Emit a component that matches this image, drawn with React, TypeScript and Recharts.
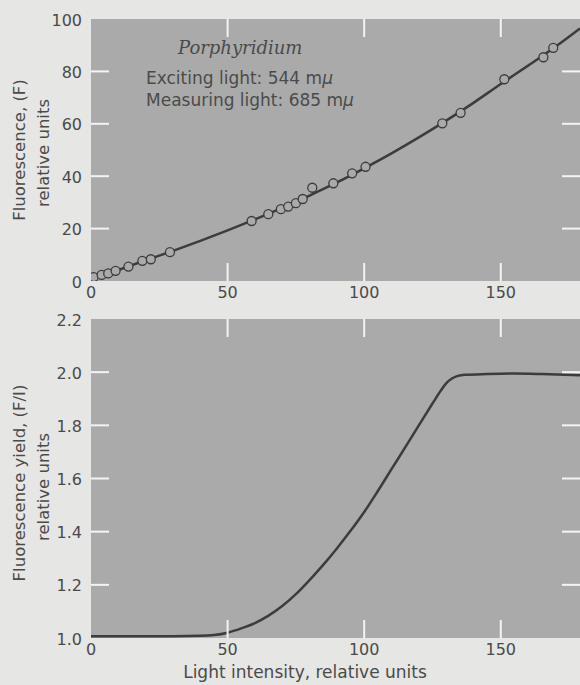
import React from 'react';
import { ComposedChart, LineChart, Line, Scatter, XAxis, YAxis, CartesianGrid } from 'recharts';

// ---------- data ----------
const xTicks = [0, 50, 100, 150];
const fluorTicks = [0, 20, 40, 60, 80, 100];
const yieldTicks = [1.0, 1.2, 1.4, 1.6, 1.8, 2.0, 2.2];

const measuredIntensity = [1, 3.9, 6.3, 9.0, 13.7, 18.8, 21.9, 28.9, 58.8, 64.9, 69.5, 72.2, 75.0, 77.5, 81.0, 88.7, 95.6, 100.5, 128.6, 135.3, 151.3, 165.6, 169.2];
const measuredFluor = [1.5, 2.3, 2.9, 3.9, 5.5, 7.7, 8.3, 11.0, 22.9, 25.5, 27.4, 28.4, 29.7, 31.3, 35.6, 37.3, 41.1, 43.6, 60.2, 64.2, 77.0, 85.4, 89.0];

const curveIntensity = [0, 10, 20, 30, 40, 50, 60, 70, 80, 90, 100, 110, 120, 130, 140, 150, 160, 170, 179];
const curveFluor = [0.5, 4.2, 7.9, 11.5, 15.3, 19.3, 23.5, 27.9, 32.6, 37.6, 43.0, 48.7, 54.8, 61.2, 68.0, 75.2, 82.2, 89.4, 96.4];

const yieldIntensity = [0, 10, 20, 30, 40, 45, 50, 55, 60, 65, 70, 75, 80, 85, 90, 95, 100, 105, 110, 115, 120, 125, 128, 130, 132, 134, 137, 145, 155, 165, 179];
const yieldValues = [1.007, 1.007, 1.007, 1.007, 1.008, 1.011, 1.02, 1.036, 1.056, 1.084, 1.12, 1.165, 1.218, 1.275, 1.337, 1.403, 1.474, 1.553, 1.635, 1.717, 1.80, 1.882, 1.93, 1.958, 1.975, 1.985, 1.99, 1.993, 1.995, 1.993, 1.988];

const X_DOMAIN: [number, number] = [0, 179];
const FLUOR_DOMAIN: [number, number] = [0, 100];
const YIELD_DOMAIN: [number, number] = [1.0, 2.2];

const points = measuredIntensity.map((x, i) => ({ x, y: measuredFluor[i] }));
const curve = curveIntensity.map((x, i) => ({ x, y: curveFluor[i] }));
const yieldCurve = yieldIntensity.map((x, i) => ({ x, y: yieldValues[i] }));

// ---------- style / layout ----------
const PAGE_BG = '#e6e6e4';
const PLOT_BG = '#aaaaaa';
const INK = '#3c3c3c';
const TEXT = '#4a4a4a';
const TICK_WHITE = '#f4f4f4';
const FONT = '"DejaVu Sans", sans-serif';
const W = 580;
const PLOT_L = 91;
const PLOT_R = 580;
const TICK_LEN = 18;
const PLOT_TOP_LOCAL = 19;

const makeYTick = (ends: [number, number], fmt: (v: number) => string) => (props: any) => {
  const { x, y, payload } = props;
  const v = payload.value;
  const inner = Math.abs(v - ends[0]) > 1e-9 && Math.abs(v - ends[1]) > 1e-9;
  return (
    <g>
      {inner && <line x1={PLOT_L} x2={PLOT_L + TICK_LEN} y1={y} y2={y} stroke={TICK_WHITE} strokeWidth={2} />}
      {inner && <line x1={PLOT_R - TICK_LEN} x2={PLOT_R} y1={y} y2={y} stroke={TICK_WHITE} strokeWidth={2} />}
      <text x={x} y={y} dy={6.5} textAnchor="end" fill={TEXT} fontSize={16} fontFamily={FONT}>{fmt(v)}</text>
    </g>
  );
};

const X_MARGIN = 6;
const makeXTick = () => (props: any) => {
  const { x, y, payload } = props;
  const v = payload.value;
  const bottom = y - X_MARGIN;
  const inner = v !== X_DOMAIN[0];
  return (
    <g>
      {inner && <line x1={x} x2={x} y1={bottom} y2={bottom - TICK_LEN} stroke={TICK_WHITE} strokeWidth={2} />}
      {inner && <line x1={x} x2={x} y1={PLOT_TOP_LOCAL} y2={PLOT_TOP_LOCAL + TICK_LEN} stroke={TICK_WHITE} strokeWidth={2} />}
      <text x={x} y={y} dy="0.71em" textAnchor="middle" fill={TEXT} fontSize={16} fontFamily={FONT}>{String(v)}</text>
    </g>
  );
};

const CircleShape = (props: any) => (
  <circle cx={props.cx} cy={props.cy} r={4.5} fill={PLOT_BG} stroke={INK} strokeWidth={1.3} />
);

export default function App() {
  return (
    <div style={{ position: 'fixed', left: 0, top: 0, width: W, height: 685, background: PAGE_BG, overflow: 'hidden' }}>
      <div style={{ position: 'absolute', left: 0, top: 0 }}>
        <ComposedChart width={W} height={310} margin={{ top: PLOT_TOP_LOCAL, right: 0, bottom: 0, left: 0 }}>
          <CartesianGrid horizontal={false} vertical={false} fill={PLOT_BG} stroke="none" />
          <XAxis dataKey="x" type="number" domain={X_DOMAIN} ticks={xTicks} interval={0} height={29}
            axisLine={false} tickLine={false} tickSize={0} tickMargin={X_MARGIN} tick={makeXTick()} allowDataOverflow />
          <YAxis dataKey="y" type="number" domain={FLUOR_DOMAIN} ticks={fluorTicks} interval={0} width={PLOT_L}
            axisLine={false} tickLine={false} tickSize={0} tickMargin={9} tick={makeYTick(FLUOR_DOMAIN, (v) => String(v))} allowDataOverflow />
          <Line data={curve} dataKey="y" type="monotone" stroke={INK} strokeWidth={2.5} dot={false} isAnimationActive={false} />
          <Scatter data={points} dataKey="y" shape={CircleShape} isAnimationActive={false} />
        </ComposedChart>
      </div>
      <div style={{ position: 'absolute', left: 0, top: 300 }}>
        <LineChart width={W} height={385} margin={{ top: PLOT_TOP_LOCAL, right: 0, bottom: 0, left: 0 }}>
          <CartesianGrid horizontal={false} vertical={false} fill={PLOT_BG} stroke="none" />
          <XAxis dataKey="x" type="number" domain={X_DOMAIN} ticks={xTicks} interval={0} height={47}
            axisLine={false} tickLine={false} tickSize={0} tickMargin={X_MARGIN} tick={makeXTick()} allowDataOverflow />
          <YAxis dataKey="y" type="number" domain={YIELD_DOMAIN} ticks={yieldTicks} interval={0} width={PLOT_L}
            axisLine={false} tickLine={false} tickSize={0} tickMargin={9} tick={makeYTick(YIELD_DOMAIN, (v) => v.toFixed(1))} allowDataOverflow />
          <Line data={yieldCurve} dataKey="y" type="monotone" stroke={INK} strokeWidth={2.5} dot={false} isAnimationActive={false} />
        </LineChart>
      </div>
      <svg width={W} height={685} style={{ position: 'absolute', left: 0, top: 0, pointerEvents: 'none' }}>
        <g fill={TEXT} fontFamily={FONT} fontSize={16.5}>
          <text transform="translate(19,150) rotate(-90)" textAnchor="middle" dy="0.35em">Fluorescence, (F)</text>
          <text transform="translate(43,153) rotate(-90)" textAnchor="middle" dy="0.35em">relative units</text>
          <text transform="translate(19,483) rotate(-90)" textAnchor="middle" dy="0.35em">Fluorescence yield, (F/I)</text>
          <text transform="translate(43,487) rotate(-90)" textAnchor="middle" dy="0.35em">relative units</text>
        </g>
        <text x={305} y={678} textAnchor="middle" fill={TEXT} fontFamily={FONT} fontSize={17}>Light intensity, relative units</text>
        <text x={178} y={54} fill={TEXT} fontFamily='"DejaVu Serif", serif' fontStyle="italic" fontSize={18}>Porphyridium</text>
        <text x={146} y={84} fill={TEXT} fontFamily={FONT} fontSize={17}>Exciting light: 544 m<tspan fontStyle="italic">μ</tspan></text>
        <text x={146} y={106} fill={TEXT} fontFamily={FONT} fontSize={17}>Measuring light: 685 m<tspan fontStyle="italic">μ</tspan></text>
      </svg>
    </div>
  );
}
